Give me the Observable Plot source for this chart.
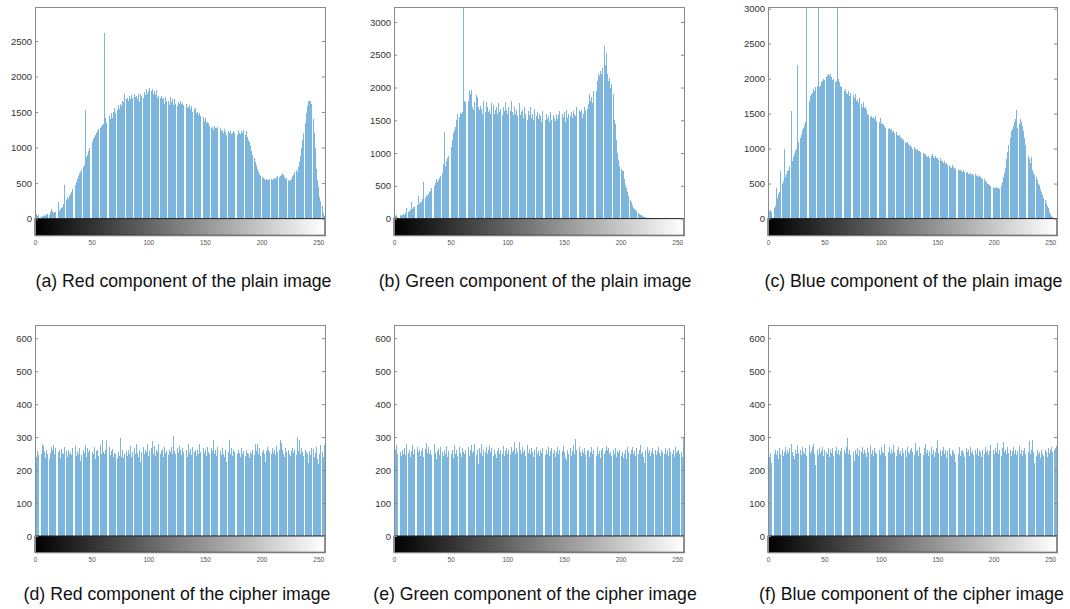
<!DOCTYPE html>
<html><head><meta charset="utf-8">
<script src="https://cdn.jsdelivr.net/npm/d3@7"></script>
<script src="https://cdn.jsdelivr.net/npm/@observablehq/plot@0.6"></script>
<style>
html,body{margin:0;padding:0;background:#fff;}
#page{position:relative;width:1070px;height:609px;overflow:hidden;font-family:"Liberation Sans",Arial,sans-serif;}
.panel{position:absolute;}
.panel svg{display:block;}
.cap{position:absolute;width:400px;text-align:center;font-size:17.7px;line-height:20px;color:#111;white-space:nowrap;}
</style></head><body><div id="page"></div>
<script>
// gray levels 0..255 (x categories)
const levels = d3.range(256);
const xTickValues = [0, 50, 100, 150, 200, 250];
const yTicksRedPlain = [0, 500, 1000, 1500, 2000, 2500];
const yTicksPlain3000 = [0, 500, 1000, 1500, 2000, 2500, 3000];
const yTicksCipher = [0, 100, 200, 300, 400, 500, 600];

const redPlain = [
40,60,30,50,20,40,25,35,50,30,60,70,50,90,140,110,
80,90,100,120,230,110,130,150,170,200,470,260,300,280,320,350,
380,420,780,480,520,560,600,640,660,680,720,760,1530,870,900,950,
1000,1030,1080,1120,1150,1170,1200,1230,1260,1280,1300,1320,1330,2610,1420,1350,
1380,1450,1400,1480,1420,1500,1560,1480,1530,1600,1550,1620,1580,1650,1640,1760,
1680,1700,1650,1720,1690,1740,1700,1760,1710,1730,1690,1750,1640,1760,1720,1700,
1780,1740,1830,1760,1800,1840,1790,1820,1760,1800,1740,1810,1700,1720,1700,1720,
1690,1700,1620,1710,1660,1650,1600,1710,1640,1680,1600,1690,1620,1580,1640,1620,
1650,1620,1630,1600,1590,1620,1560,1570,1600,1550,1580,1500,1540,1560,1480,1500,
1460,1480,1450,1400,1430,1380,1420,1350,1360,1340,1300,1280,1290,1250,1300,1280,
1270,1290,1260,1280,1230,1250,1200,1260,1220,1180,1240,1200,1230,1190,1210,1240,
1200,1230,1180,1250,1210,1190,1240,1200,1250,1180,1230,1150,1100,1080,1020,950,
900,850,800,760,700,660,630,600,590,570,560,540,560,550,540,560,
560,550,560,570,560,590,600,580,600,620,640,610,580,560,570,540,
530,550,560,600,620,650,680,650,720,800,880,1000,1100,1200,1350,1480,
1580,1650,1650,1660,1620,1400,1200,1000,700,550,450,300,250,180,80,30];

const greenPlain = [
70,40,50,30,45,60,35,50,70,60,90,160,100,120,130,250,
140,170,180,200,210,340,220,250,260,300,560,320,360,340,380,400,
420,470,850,500,540,600,560,590,620,650,700,840,1320,800,880,920,
960,1000,1100,1200,1300,1350,1400,1500,1600,1550,1610,1600,1620,3500,1800,1780,
1850,1800,1950,1900,1960,1700,1650,1780,1880,1860,1700,1650,1720,1680,1600,1790,
1620,1780,1700,1620,1660,1600,1770,1740,1600,1650,1700,1600,1760,1620,1680,1580,
1700,1640,1780,1650,1600,1700,1640,1800,1620,1580,1700,1600,1660,1560,1760,1580,
1620,1650,1540,1700,1600,1500,1640,1580,1700,1540,1600,1500,1680,1560,1620,1520,
1600,1560,1480,1640,1540,1500,1600,1520,1560,1480,1620,1500,1580,1540,1490,1600,
1520,1580,1640,1500,1600,1550,1620,1480,1660,1540,1600,1560,1620,1540,1640,1600,
1560,1700,1580,1650,1620,1660,1540,1600,1700,1650,1680,1750,1900,1800,1860,1760,
1950,2000,1950,2100,2200,2180,2250,2200,2300,2640,2350,2520,2200,2100,2150,2000,
2050,1900,1500,1450,1200,1000,900,800,760,720,730,600,520,460,400,340,
280,250,200,160,150,130,110,90,70,60,50,40,30,25,20,15,
12,10,8,6,5,4,3,2,1,1,0,0,0,0,0,0,
0,0,0,0,0,0,0,0,0,0,0,0,0,0,0,0];

const bluePlain = [
80,110,120,90,225,150,180,430,300,350,380,683,500,540,990,600,
640,680,700,750,1538,820,880,920,960,1000,2197,1100,1150,1200,1260,1300,
1340,1385,3100,1600,1680,1750,1780,1800,1850,1820,1880,1900,3100,1880,1900,1950,
1960,2000,1980,2030,2050,2070,2040,2060,2020,1980,2000,1950,1960,3100,2000,1950,
1900,1880,1860,1820,1850,1800,1780,1820,1750,1800,1700,1760,1720,1780,1680,1700,
1650,1720,1640,1600,1660,1580,1600,1550,1500,1480,1450,1460,1440,1450,1420,1460,
1400,1420,1380,1440,1350,1360,1340,1320,1300,1320,1280,1300,1260,1280,1240,1250,
1220,1240,1200,1180,1200,1160,1140,1150,1120,1100,1080,1100,1060,1040,1050,1020,
1000,1020,990,980,1000,960,970,950,960,940,920,930,900,880,900,870,
900,920,880,870,890,860,870,840,860,830,820,800,820,780,800,770,
760,740,730,760,740,720,710,730,700,690,700,680,670,690,660,650,
660,640,630,650,620,640,620,630,610,620,600,610,590,580,570,560,
530,520,500,490,480,470,460,450,440,430,450,430,440,420,460,520,
600,650,720,850,950,1050,1150,1250,1280,1320,1380,1420,1550,1300,1350,1430,
1380,1320,1250,1150,1050,1000,900,850,800,880,700,650,620,600,550,500,
480,420,380,340,300,260,220,180,150,100,60,40,20,10,5,0];

const redCipher = [
262,240,258,245,266,250,278,272,255,238,260,248,232,252,270,262,
275,250,268,244,255,262,236,265,252,248,270,258,240,262,250,256,
246,268,255,272,244,258,250,266,228,245,260,252,276,240,268,255,
262,238,256,248,270,235,258,262,244,276,250,290,256,248,262,290,
252,270,245,258,264,240,252,248,238,256,244,298,240,262,236,250,
258,244,262,250,272,240,256,266,248,278,252,240,262,225,256,270,
248,262,254,280,244,258,266,288,250,272,244,262,255,280,248,258,
264,240,270,252,258,246,262,255,270,250,303,258,248,266,252,272,
260,246,268,255,250,262,240,278,252,264,246,270,255,260,244,262,
250,280,256,242,266,252,262,244,270,255,248,268,258,290,250,262,
244,270,252,258,246,266,250,240,262,225,254,290,250,268,244,262,
255,270,248,262,252,240,266,250,258,244,262,252,248,238,255,250,
262,246,280,258,280,250,268,244,255,262,250,225,258,270,262,256,
250,266,252,262,246,272,256,260,292,282,262,250,240,268,254,262,
250,244,258,268,252,262,246,300,258,290,250,266,255,244,262,256,
250,222,258,246,268,264,240,252,270,232,218,250,275,256,240,276];

const greenCipher = [
240,262,276,248,275,255,242,260,250,268,246,278,252,262,240,258,
276,250,264,246,270,255,262,244,258,268,240,264,283,252,270,250,
262,246,268,280,252,232,258,264,246,270,255,244,262,250,272,240,
258,266,248,262,236,275,250,262,244,270,252,240,266,256,248,262,
250,270,244,262,276,252,258,280,246,262,218,266,252,278,244,260,
256,270,248,262,276,254,266,244,262,250,236,258,266,248,262,250,
272,244,258,266,250,262,246,270,256,262,285,250,268,256,284,262,
248,270,256,262,244,276,252,262,248,266,254,240,262,270,250,258,
244,262,252,268,256,246,262,250,270,244,258,266,252,262,240,256,
270,250,262,244,258,272,254,236,230,262,250,266,244,258,276,250,
293,262,248,270,256,244,262,252,268,246,258,262,240,256,270,248,
262,254,244,270,250,258,236,262,266,248,258,272,262,268,250,256,
244,262,250,266,240,258,252,262,244,256,238,250,262,235,270,256,
248,262,270,250,258,244,266,250,262,276,248,256,240,222,262,270,
252,262,244,256,268,250,262,246,258,270,252,244,262,256,248,266,
250,262,244,268,256,250,262,240,270,252,258,262,248,256,240,296];

const blueCipher = [
258,240,252,220,272,250,262,246,258,232,266,250,262,244,256,270,
248,262,252,266,280,256,244,232,262,250,276,252,262,246,270,256,
250,266,244,262,276,252,258,270,278,250,215,262,246,266,252,258,
270,244,262,256,248,268,240,262,252,266,244,258,270,250,262,246,
258,266,244,262,252,270,298,250,262,246,298,256,228,262,250,268,
244,262,256,270,248,262,252,240,266,256,276,250,262,244,268,256,
250,303,262,246,270,256,252,278,244,262,256,270,248,262,252,276,
256,244,262,270,250,258,244,266,252,262,240,270,256,250,262,268,
254,246,282,258,262,244,270,252,258,246,266,280,252,262,244,258,
270,250,262,240,256,266,290,252,262,244,258,270,250,262,236,258,
266,250,244,262,256,248,225,262,250,270,244,258,262,252,240,266,
256,262,244,270,252,258,246,262,250,268,244,262,256,240,262,250,
270,256,262,246,258,276,300,262,250,268,256,282,250,262,244,268,
285,256,262,248,270,252,262,244,258,270,250,262,246,258,272,250,
262,244,258,266,250,262,256,287,250,262,290,256,222,244,262,250,
256,236,262,250,244,262,256,240,266,252,262,270,256,262,266,272];

const captions = [
  "(a) Red component of the plain image",
  "(b) Green component of the plain image",
  "(c) Blue component of the plain image",
  "(d) Red component of the cipher image",
  "(e) Green component of the cipher image",
  "(f) Blue component of the cipher image"
];

const panels = [
  {values: redPlain,    ticks: yTicksRedPlain,  domain: [-235, 2979], left: 35,    width: 290, top: 6.7, bottom: 235,   capX: 183.5, capY: 287},
  {values: greenPlain,  ticks: yTicksPlain3000, domain: [-255, 3229], left: 394,   width: 290, top: 6.7, bottom: 235,   capX: 535,   capY: 287},
  {values: bluePlain,   ticks: yTicksPlain3000, domain: [-239, 3024], left: 767.7, width: 289, top: 6.7, bottom: 235,   capX: 913.5, capY: 287},
  {values: redCipher,   ticks: yTicksCipher,    domain: [-49.5, 640], left: 35,    width: 290, top: 325, bottom: 552.3, capX: 177,   capY: 600},
  {values: greenCipher, ticks: yTicksCipher,    domain: [-49.5, 640], left: 394,   width: 290, top: 325, bottom: 552.3, capX: 535,   capY: 600},
  {values: blueCipher,  ticks: yTicksCipher,    domain: [-49.5, 640], left: 767.7, width: 289, top: 325, bottom: 552.3, capX: 911.5, capY: 600}
];

const page = document.getElementById("page");
const mL = 40, mR = 8, mT = 8, mB = 16;

panels.forEach((p, k) => {
  const h = p.bottom - p.top;
  const yTop = p.domain[1];
  const yBot = p.domain[0];
  const rows = p.values.map((v, i) => ({level: levels[i], count: v}));
  const chart = Plot.plot({
    width: mL + p.width + mR,
    height: mT + h + mB,
    marginLeft: mL, marginRight: mR, marginTop: mT, marginBottom: mB,
    x: {domain: [0, 256], axis: null},
    y: {domain: p.domain, axis: null},
    color: {type: "linear", domain: [0, 255], range: ["#000000", "#ffffff"]},
    style: {background: "#ffffff", fontFamily: "Liberation Sans, Arial, sans-serif", overflow: "visible"},
    marks: [
      Plot.rect(rows, {x1: "level", x2: d => d.level + 1, y1: () => 0, y2: d => Math.min(d.count, yTop),
        fill: "#7cb6de", insetRight: 0.17, shapeRendering: "crispEdges"}),
      Plot.rect(levels, {x1: d => d, x2: d => d + 1, y1: () => yBot, y2: () => 0, fill: d => d, shapeRendering: "crispEdges"}),
      Plot.rect([0], {x1: () => 0, x2: () => 256, y1: () => yBot, y2: () => 0, fill: "none", stroke: "#222", strokeWidth: 1}),
      Plot.frame({stroke: "#8a8a8a"}),
      Plot.ruleY(p.ticks, {y: d => d, x1: () => 0, x2: () => 2.7, stroke: "#8a8a8a"}),
      Plot.ruleY(p.ticks, {y: d => d, x1: () => 253.3, x2: () => 256, stroke: "#8a8a8a"}),
      Plot.text(p.ticks, {x: () => 0, y: d => d, text: d => String(d), textAnchor: "end", dx: -3.5, fontSize: 9.5, fill: "#333"}),
      Plot.text(xTickValues, {x: d => d, y: () => yBot, text: d => String(d), dy: 7.5, fontSize: 6.5, fill: "#555"})
    ]
  });
  const div = document.createElement("div");
  div.className = "panel";
  div.style.left = (p.left - mL) + "px";
  div.style.top = (p.top - mT) + "px";
  div.appendChild(chart);
  page.appendChild(div);

  const cap = document.createElement("div");
  cap.className = "cap";
  cap.textContent = captions[k];
  cap.style.left = (p.capX - 200) + "px";
  cap.style.top = (p.capY - 16) + "px";
  page.appendChild(cap);
});
</script>
</body></html>
